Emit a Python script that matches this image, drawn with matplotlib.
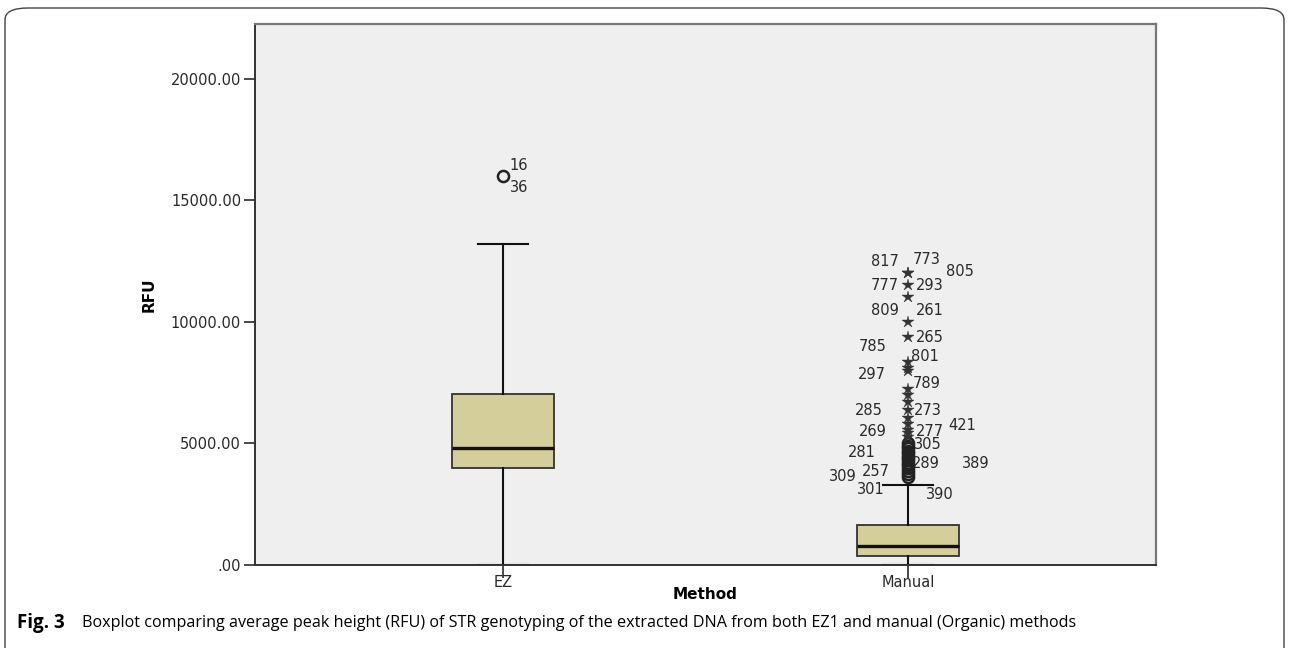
import matplotlib.pyplot as plt
import numpy as np
from matplotlib.patches import FancyBboxPatch

# --- data ---
methods = ["EZ", "Manual"]
box_q1 = [4000, 383]
box_median = [4815, 782]
box_q3 = [7037, 1646]
whisker_low = [0, 0]
whisker_high = [13210, 3292]

ez_outliers = [16000]
ez_outlier_ids = ["16", "36"]

manual_outliers = [3620, 3750, 3880, 3990, 4100, 4200, 4300, 4400, 4500,
                   4600, 4700, 4800, 4900, 5020]
manual_extremes = [5270, 5420, 5560, 5800, 6050, 6380, 6710, 7000, 7250,
                   8000, 8110, 8350, 9380, 10010, 11030, 11520, 12000, 12000]

manual_ids = ["817", "773", "805", "777", "293", "809", "261", "265", "785",
              "801", "297", "789", "285", "273", "421", "269", "277", "305",
              "281", "289", "389", "257", "309", "301", "390"]
manual_id_values = [12470, 12590, 12060, 11520, 11520, 10490, 10490, 9380,
                    9010, 8560, 7820, 7450, 6340, 6340, 5760, 5510, 5510,
                    4940, 4610, 4160, 4160, 3830, 3660, 3090, 2920]

# horizontal text offsets (px) for the case labels
manual_id_dx = [-23, 19, 52, -23, 22, -23, 22, 22, -35, 17, -36, 19, -39,
                20, 54, -35, 22, 20, -46, 18, 68, -32, -65, -37, 32]

fig = plt.figure(figsize=(12.9, 6.48), dpi=100)
fig.patch.set_facecolor("white")

# rounded frame around the figure
frame = FancyBboxPatch((5 / 1290, -20 / 648), 1279 / 1290, 660 / 648,
                       boxstyle="round,pad=0,rounding_size=0.018",
                       transform=fig.transFigure, fill=False,
                       edgecolor="#444444", linewidth=1.0)
fig.patches.append(frame)

ax = fig.add_axes([255 / 1290, (648 - 565) / 648, 901 / 1290, 541 / 648])
ax.set_facecolor("#efefef")

stats = []
for i, m in enumerate(methods):
    stats.append(dict(label=m, q1=box_q1[i], med=box_median[i], q3=box_q3[i],
                      whislo=whisker_low[i], whishi=whisker_high[i], fliers=[]))

ax.bxp(stats, positions=[0, 1], widths=0.25, patch_artist=True,
       showfliers=False,
       boxprops=dict(facecolor="#d4cf9a", edgecolor="#333333", linewidth=1.3),
       medianprops=dict(color="#111111", linewidth=2.4),
       whiskerprops=dict(color="#111111", linewidth=1.5),
       capprops=dict(color="#111111", linewidth=1.5),
       capwidths=0.125)

# outliers
ax.plot([0] * len(ez_outliers), ez_outliers, "o", ms=8, mfc="none",
        mec="#222222", mew=1.8)
ax.plot([1] * len(manual_outliers), manual_outliers, "o", ms=8, mfc="none",
        mec="#222222", mew=1.8)
ax.plot([1] * len(manual_extremes), manual_extremes, "*", ms=9,
        color="#333333", mew=0.3)

label_font = dict(family="DejaVu Sans", fontsize=10.5, color="#2a2a2a")
ax.annotate(ez_outlier_ids[0], (0, ez_outliers[0]), xytext=(16, 11),
            textcoords="offset pixels", ha="center", va="center", **label_font)
ax.annotate(ez_outlier_ids[1], (0, ez_outliers[0]), xytext=(16, -11),
            textcoords="offset pixels", ha="center", va="center", **label_font)
for lab, val, dx in zip(manual_ids, manual_id_values, manual_id_dx):
    ax.annotate(lab, (1, val), xytext=(dx, 0), textcoords="offset pixels",
                ha="center", va="center", **label_font)

ax.set_xlim(-0.612, 1.612)
ax.set_ylim(0, 22260)
ax.set_yticks([0, 5000, 10000, 15000, 20000])
ax.set_yticklabels([".00", "5000.00", "10000.00", "15000.00", "20000.00"])
ax.set_xticks([0, 1])
ax.set_xticklabels(methods)
ax.tick_params(axis="y", direction="out", length=8, width=1.2,
               labelsize=10.5, colors="#2a2a2a", pad=2)
ax.tick_params(axis="x", direction="out", length=9, width=1.2,
               labelsize=10.5, colors="#2a2a2a", pad=-2)

for side in ["left", "bottom"]:
    ax.spines[side].set_color("#333333")
    ax.spines[side].set_linewidth(1.4)
for side in ["top", "right"]:
    ax.spines[side].set_color("#777777")
    ax.spines[side].set_linewidth(1.6)

ax.set_ylabel("RFU", fontweight="bold", fontsize=11, labelpad=10)
ax.set_xlabel("Method", fontweight="bold", fontsize=11, labelpad=-2)

fig.text(17 / 1290, 1 - 623 / 648, "Fig. 3", fontfamily="Open Sans",
         fontweight="bold", fontsize=13.5, va="center", ha="left")
fig.text(82 / 1290, 1 - 623 / 648,
         "Boxplot comparing average peak height (RFU) of STR genotyping of the "
         "extracted DNA from both EZ1 and manual (Organic) methods",
         fontfamily="Open Sans", fontsize=11.6, va="center", ha="left")

fig.savefig("out.png", dpi=100)
